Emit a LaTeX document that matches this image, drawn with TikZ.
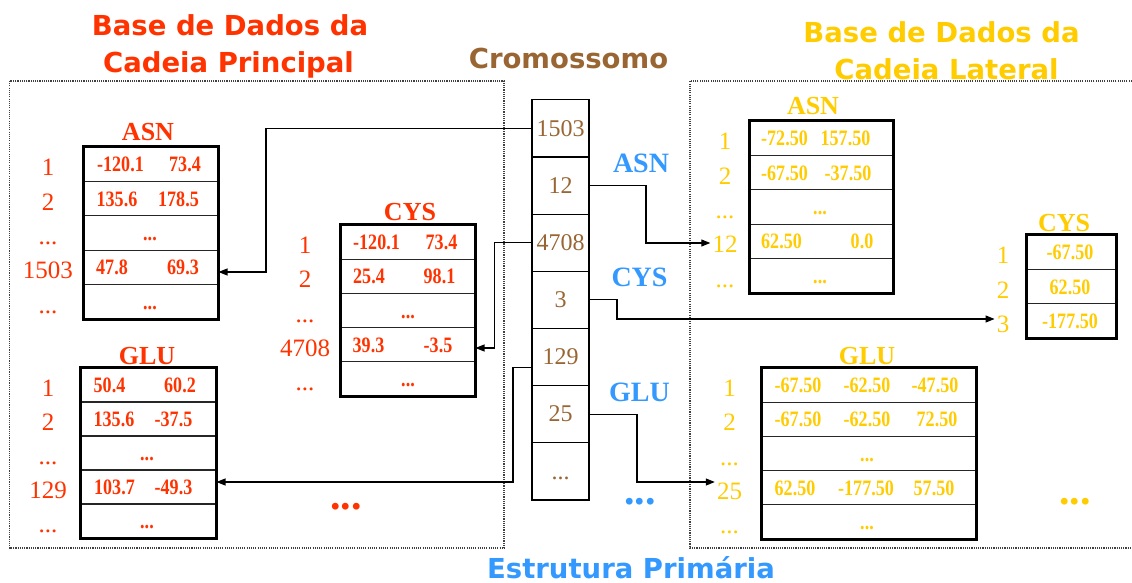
\documentclass[tikz,border=0pt]{standalone}
\usepackage{fontspec}
\usepackage{graphicx}
\usetikzlibrary{arrows.meta,calc}
\newfontfamily\titlefont{DejaVu Sans}
\newfontfamily\tnr{Liberation Serif}
\newfontfamily\tnrc[FakeStretch=0.82]{Liberation Serif}
\newcommand\mydots{...}
\definecolor{cred}{RGB}{255,51,0}
\definecolor{cgold}{RGB}{255,204,0}
\definecolor{cbrown}{RGB}{153,102,51}
\definecolor{cblue}{RGB}{51,153,255}
\tikzset{
  ttl/.style={font=\titlefont\bfseries\fontsize{27.5}{30}\selectfont, inner sep=0pt, anchor=base},
  tbt/.style={font=\tnr\bfseries\fontsize{26}{26}\selectfont, inner sep=0pt},
  val/.style={font=\tnrc\bfseries\fontsize{22}{22}\selectfont, inner sep=0pt, text height=15pt, text depth=0pt},
  lab/.style={font=\tnr\fontsize{25}{25}\selectfont, inner sep=0pt, text height=17pt, text depth=0pt},
  bigdots/.style={font=\tnr\bfseries\fontsize{42}{42}\selectfont, inner sep=0pt},
  rowbox/.style={draw=black!85, line width=1pt, minimum height=34.3pt, inner sep=0pt},
  outerbox/.style={draw=black, line width=2.6pt},
  cell/.style={draw=black, line width=1.1pt, minimum width=57pt, minimum height=57.14pt, inner sep=0pt, text=cbrown, font=\tnr\fontsize{24}{24}\selectfont, text height=15.5pt, text depth=0pt},
  dotbox/.style={draw=black!75, line width=1.1pt, dash pattern=on 1.1pt off 1.1pt},
  arr/.style={draw=black, line width=1.1pt, -{Triangle[length=9pt,width=7pt]}}
}
\begin{document}
\begin{tikzpicture}[x=1pt,y=-1pt]
\fill[white] (0,0) rectangle (1132,583);
\useasboundingbox (0,0) rectangle (1132,583);

% dotted frames
\draw[dotbox] (9.5,81) rectangle (504,548);
\draw[dotbox] (1134,81) -- (690,81) -- (690,548) -- (1134,548);

% titles
\node[ttl, text=cred] (tl1) at (230,36) {Base de Dados da};
\node[ttl, text=cred] (tl2) at (228.5,73) {Cadeia Principal};
\node[ttl, text=cgold] (tr1) at (941.5,43) {Base de Dados da};
\node[ttl, text=cgold] (tr2) at (946.5,80) {Cadeia Lateral};
\node[ttl, text=cbrown] (tc) at (568.5,69) {Cromossomo};
\node[ttl, text=cblue] (tb) at (631,578) {Estrutura Primária};

% chromosome
\node[cell] (c1) at (560.5,128.5) {1503};
\node[cell] (c2) at (560.5,185.6) {12};
\node[cell] (c3) at (560.5,242.8) {4708};
\node[cell] (c4) at (560.5,299.9) {3};
\node[cell] (c5) at (560.5,357.1) {129};
\node[cell] (c6) at (560.5,414.2) {25};
\node[cell] (c7) at (560.5,471.4) {...};

% blue labels
\node[tbt, text=cblue, font=\tnr\bfseries\fontsize{28}{28}\selectfont] (bA) at (641,163) {ASN};
\node[tbt, text=cblue, font=\tnr\bfseries\fontsize{28}{28}\selectfont] (bC) at (639.5,277) {CYS};
\node[tbt, text=cblue, font=\tnr\bfseries\fontsize{28}{28}\selectfont] (bG) at (639.5,392) {GLU};
\node[bigdots, text=cblue] (bD) at (640,502) {...};
\node[bigdots, text=cred] (rD) at (346,507) {...};
\node[bigdots, text=cgold] (gD) at (1075,502) {...};

% ===== red ASN
\node[tbt, text=cred] (tA) at (148,132) {ASN};
\foreach \i/\y in {1/164.2,2/198.6,3/233,4/267.4,5/301.8}
  \node[rowbox, minimum width=134pt] (rA\i) at (151,\y) {};
\draw[outerbox] (rA1.north west) rectangle (rA5.south east);
\foreach \n/\y/\t in {1/167.2/1,2/201.6/2,3/236/\mydots,4/270.4/1503,5/304.8/\mydots}
  \node[lab, text=cred] (rAl\n) at (48,\y) {\t};
\foreach \n/\x/\y/\t in {1/120.5/164.2/-120.1, 2/185/164.2/73.4, 3/117/198.6/135.6, 4/178.5/198.6/178.5, 5/150/233/\mydots, 6/112/267.4/47.8, 7/183/267.4/69.3, 8/150/301.8/\mydots}
  \node[val, text=cred] (rAv\n) at (\x,\y) {\t};

% ===== red CYS
\node[tbt, text=cred] (tC) at (410,212) {CYS};
\foreach \i/\y in {1/242.1,2/276.3,3/310.5,4/344.7,5/378.9}
  \node[rowbox, minimum width=134pt] (rC\i) at (408,\y) {};
\draw[outerbox] (rC1.north west) rectangle (rC5.south east);
\foreach \n/\y/\t in {1/245.1/1,2/279.3/2,3/313.5/\mydots,4/347.7/4708,5/381.9/\mydots}
  \node[lab, text=cred] (rCl\n) at (305,\y) {\t};
\foreach \n/\x/\y/\t in {1/376.5/242.1/-120.1, 2/441.5/242.1/73.4, 3/369/276.3/25.4, 4/439.5/276.3/98.1, 5/408/310.5/\mydots, 6/368.5/344.7/39.3, 7/438/344.7/-3.5, 8/408/378.9/\mydots}
  \node[val, text=cred] (rCv\n) at (\x,\y) {\t};

% ===== red GLU
\node[tbt, text=cred] (tG) at (147,356) {GLU};
\foreach \i/\y in {1/385,2/419,3/453,4/487,5/521}
  \node[rowbox, minimum width=135pt] (rG\i) at (148.5,\y) {};
\draw[outerbox] (rG1.north west) rectangle (rG5.south east);
\foreach \n/\y/\t in {1/388/1,2/422/2,3/456/\mydots,4/490/129,5/524/\mydots}
  \node[lab, text=cred] (rGl\n) at (48,\y) {\t};
\foreach \n/\x/\y/\t in {1/109.5/385/50.4, 2/180/385/60.2, 3/114/419/135.6, 4/173.5/419/-37.5, 5/147/453/\mydots, 6/114.5/487/103.7, 7/173.5/487/-49.3, 8/147/521/\mydots}
  \node[val, text=cred] (rGv\n) at (\x,\y) {\t};

% ===== gold ASN
\node[tbt, text=cgold] (gtA) at (813,106) {ASN};
\foreach \i/\y in {1/138.2,2/172.6,3/207,4/241.4,5/275.8}
  \node[rowbox, minimum width=143pt] (gA\i) at (821.5,\y) {};
\draw[outerbox] (gA1.north west) rectangle (gA5.south east);
\foreach \n/\y/\t in {1/141.2/1,2/175.6/2,3/210/\mydots,4/244.4/12,5/278.8/\mydots}
  \node[lab, text=cgold] (gAl\n) at (725,\y) {\t};
\foreach \n/\x/\y/\t in {1/784.5/138.2/-72.50, 2/845.5/138.2/157.50, 3/784.5/172.6/-67.50, 4/848/172.6/-37.50, 5/820/207/\mydots, 6/781.5/241.4/62.50, 7/862/241.4/0.0, 8/820/275.8/\mydots}
  \node[val, text=cgold] (gAv\n) at (\x,\y) {\t};

% ===== gold CYS
\node[tbt, text=cgold] (gtC) at (1064,223) {CYS};
\foreach \i/\y in {1/252.2,2/286.5,3/320.8}
  \node[rowbox, minimum width=89pt] (gC\i) at (1071.5,\y) {};
\draw[outerbox] (gC1.north west) rectangle (gC3.south east);
\foreach \n/\y/\t in {1/255.2/1,2/289.5/2,3/323.8/3}
  \node[lab, text=cgold] (gCl\n) at (1003,\y) {\t};
\foreach \n/\y/\t in {1/252.2/-67.50, 2/286.5/62.50, 3/320.8/-177.50}
  \node[val, text=cgold] (gCv\n) at (1070,\y) {\t};

% ===== gold GLU
\node[tbt, text=cgold] (gtG) at (867,356) {GLU};
\foreach \i/\y in {1/385.1,2/419.3,3/453.5,4/487.7,5/521.9}
  \node[rowbox, minimum width=214pt] (gG\i) at (869,\y) {};
\draw[outerbox] (gG1.north west) rectangle (gG5.south east);
\foreach \n/\y/\t in {1/388.1/1,2/422.3/2,3/456.5/\mydots,4/490.7/25,5/524.9/\mydots}
  \node[lab, text=cgold] (gGl\n) at (729.5,\y) {\t};
\foreach \n/\x/\y/\t in {1/798/385.1/-67.50, 2/867/385.1/-62.50, 3/935/385.1/-47.50, 4/798/419.3/-67.50, 5/867/419.3/-62.50, 6/937/419.3/72.50, 7/867/453.5/\mydots, 8/795/487.7/62.50, 9/866/487.7/-177.50, 10/934/487.7/57.50, 11/867/521.9/\mydots}
  \node[val, text=cgold] (gGv\n) at (\x,\y) {\t};

% ===== connectors
\coordinate (b1) at (266,272);
\coordinate (b2) at (646,243);
\coordinate (b3) at (494.5,348);
\coordinate (b4) at (617,319);
\coordinate (b5) at (513,482);
\coordinate (b6) at (637,482);
\draw[arr] (c1.west) -| (b1) -- (b1 -| rA4.east);
\draw[arr, shorten >=2pt] (c2.east) -| (b2) -- (b2 -| gAl4.west);
\draw[arr] (c3.west) -| (b3) -- (b3 -| rC4.east);
\draw[arr, shorten >=2pt] (c4.east) -| (b4) -- (b4 -| gCl3.west);
\draw[arr] ([yshift=-10pt]c5.west) -| (b5) -- (b5 -| rG4.east);
\draw[arr, shorten >=2pt] (c6.east) -| (b6) -- (b6 -| gGl4.west);
\end{tikzpicture}
\end{document}
